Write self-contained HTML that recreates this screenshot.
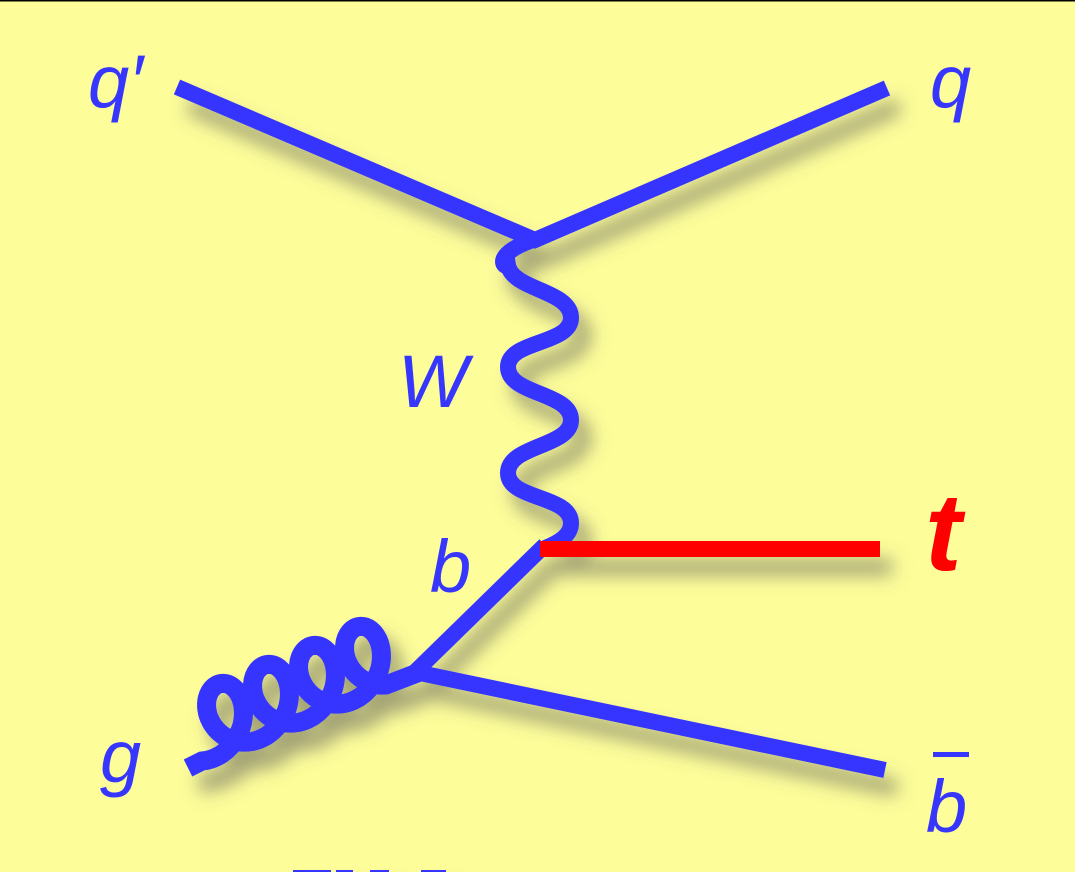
<!DOCTYPE html>
<html><head><style>
html,body{margin:0;padding:0;background:#ffff99;}
body{width:1075px;height:872px;overflow:hidden;position:relative;}
.l{position:absolute;font-family:"Liberation Sans",sans-serif;font-style:italic;color:#3636ff;font-size:74px;line-height:1;}
</style></head><body>
<svg width="1075" height="872" style="position:absolute;left:0;top:0">
<defs><filter id="sh" x="-20%" y="-20%" width="140%" height="140%">
<feDropShadow dx="12" dy="18" stdDeviation="9" flood-color="#555" flood-opacity="0.55"/></filter></defs>
<rect x="0" y="0" width="1075" height="872" fill="#fdfd9a"/>
<rect x="0" y="0" width="1075" height="1.5" fill="#000"/>
<g filter="url(#sh)" fill="none" stroke="#3636ff" stroke-width="16">
<path d="M177,87 L535,240 L887,88"/>
<path d="M533,240 C490,255 505,270 508,265 C512,290 570,290 571,317 C572,345 508,340 508,367 C508,395 571,392 571,420 C571,447 508,445 508,473 C508,500 571,495 571,523 C571,535 560,542 545,548"/>
<path d="M545,545 L415,672 L885,770"/>
<path id="g" d="" stroke-width="19"/>
<path d="M540,549 L880,549" stroke="#ff0000"/>
<rect x="293" y="870" width="38" height="4" fill="#3636ff" stroke="none"/>
<rect x="336" y="870" width="17" height="4" fill="#3636ff" stroke="none"/>
<rect x="370" y="870" width="19" height="4" fill="#3636ff" stroke="none"/>
<rect x="421" y="870" width="25" height="4" fill="#3636ff" stroke="none"/>
</g>
</svg>
<div class="l" style="left:88px;top:45px">q′</div>
<div class="l" style="left:930px;top:45px">q</div>
<div class="l" style="left:398px;top:345px">W</div>
<div class="l" style="left:430px;top:530px">b</div>
<div class="l" style="left:100px;top:720px">g</div>
<div class="l" style="left:926px;top:770px">b</div>
<div style="position:absolute;left:933px;top:752px;width:36px;height:5px;background:#3636ff"></div>
<div class="l" style="left:925px;top:478px;color:#ff0000;font-weight:bold;font-size:110px">t</div>
<script>
(function(){
 var p=['M188,768'],N=400,L=4;
 var x0=202,y0=727,dx=46,dy=-19;
 for(var i=0;i<=N;i++){
  var s=i/N*L,t=s*2*Math.PI;
  var cx=x0+dx*s, cy=y0+dy*s;
  var x=cx+29*Math.sin(t), y=cy+34*Math.cos(t);
  p.push('L'+x.toFixed(1)+','+y.toFixed(1));
 }
 p.push('L420,672');
 document.getElementById('g').setAttribute('d',p.join(' '));
})();
</script>
</body></html>
